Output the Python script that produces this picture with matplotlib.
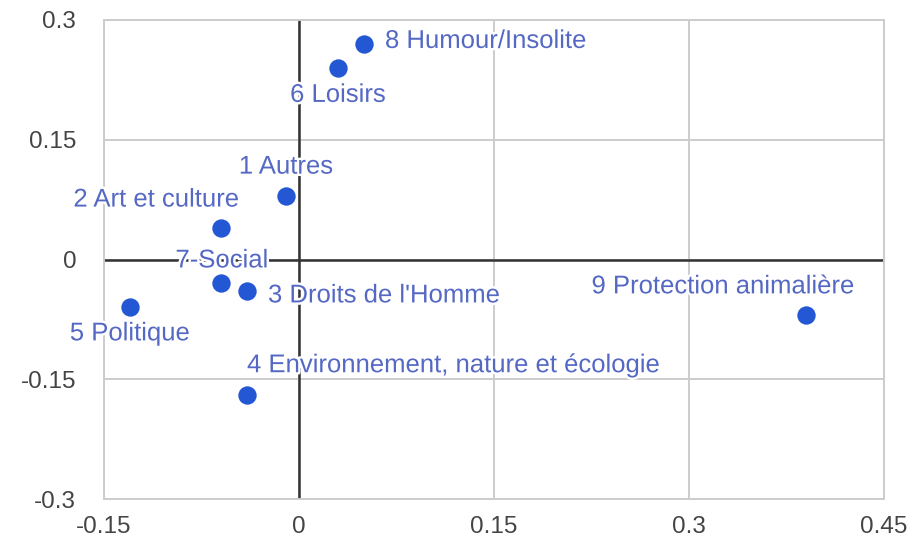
import matplotlib
matplotlib.use("Agg")
import matplotlib.pyplot as plt
import matplotlib.patheffects as pe

labels = ["1 Autres", "2 Art et culture", "3 Droits de l'Homme",
          "4 Environnement, nature et écologie", "5 Politique", "6 Loisirs",
          "7-Social", "8 Humour/Insolite", "9 Protection animalière"]
x_vals = [-0.01, -0.06, -0.04, -0.04, -0.13, 0.03, -0.06, 0.05, 0.39]
y_vals = [0.08, 0.04, -0.04, -0.17, -0.06, 0.24, -0.03, 0.27, -0.07]
ticks = [-0.15, 0, 0.15, 0.3, 0.45]
yticks = [-0.3, -0.15, 0, 0.15, 0.3]
tick_labels_x = ["-0.15", "0", "0.15", "0.3", "0.45"]
tick_labels_y = ["-0.3", "-0.15", "0", "0.15", "0.3"]

# label placement: (dx px, dy px, ha)
place = [(0, 29, "center"), (18, 28, "right"), (21, -4, "left"),
         (0, 30, "left"), (0, -26, "center"), (0, -27, "center"),
         (1, 23, "center"), (21, 3, "left"), (49, 29, "right")]

plt.rcParams['font.family'] = ['Liberation Sans', 'DejaVu Sans']
fig = plt.figure(figsize=(9.22, 5.40), dpi=100)
ax = fig.add_axes([104/922, 1-499/540, 780/922, 479/540])

ax.set_xlim(-0.15, 0.45)
ax.set_ylim(-0.3, 0.3)
ax.set_xticks(ticks)
ax.set_yticks(yticks)
ax.set_xticklabels(tick_labels_x)
ax.set_yticklabels(tick_labels_y)
ax.tick_params(length=0, labelsize=17.5, colors='#444444')
ax.tick_params(axis='x', pad=12)
ax.tick_params(axis='y', pad=20)
ax.grid(True, color='#cccccc', lw=1.4)
ax.set_axisbelow(True)
for s in ax.spines.values():
    s.set_color('#cccccc')
    s.set_linewidth(1.4)
ax.axhline(0, color='#333333', lw=1.8, zorder=1)
ax.axvline(0, color='#333333', lw=1.8, zorder=1)

ax.scatter(x_vals, y_vals, s=175, color='#2457d3', zorder=3, linewidths=0)

for lab, xv, yv, (dx, dy, ha) in zip(labels, x_vals, y_vals, place):
    ax.annotate(lab, (xv, yv), xytext=(dx*0.72, dy*0.72), textcoords='offset points',
                ha=ha, va='center', fontsize=18.5, color='#5468c4', zorder=4,
                path_effects=[pe.withStroke(linewidth=3.5, foreground='white')])

fig.savefig("out.png", dpi=100)
